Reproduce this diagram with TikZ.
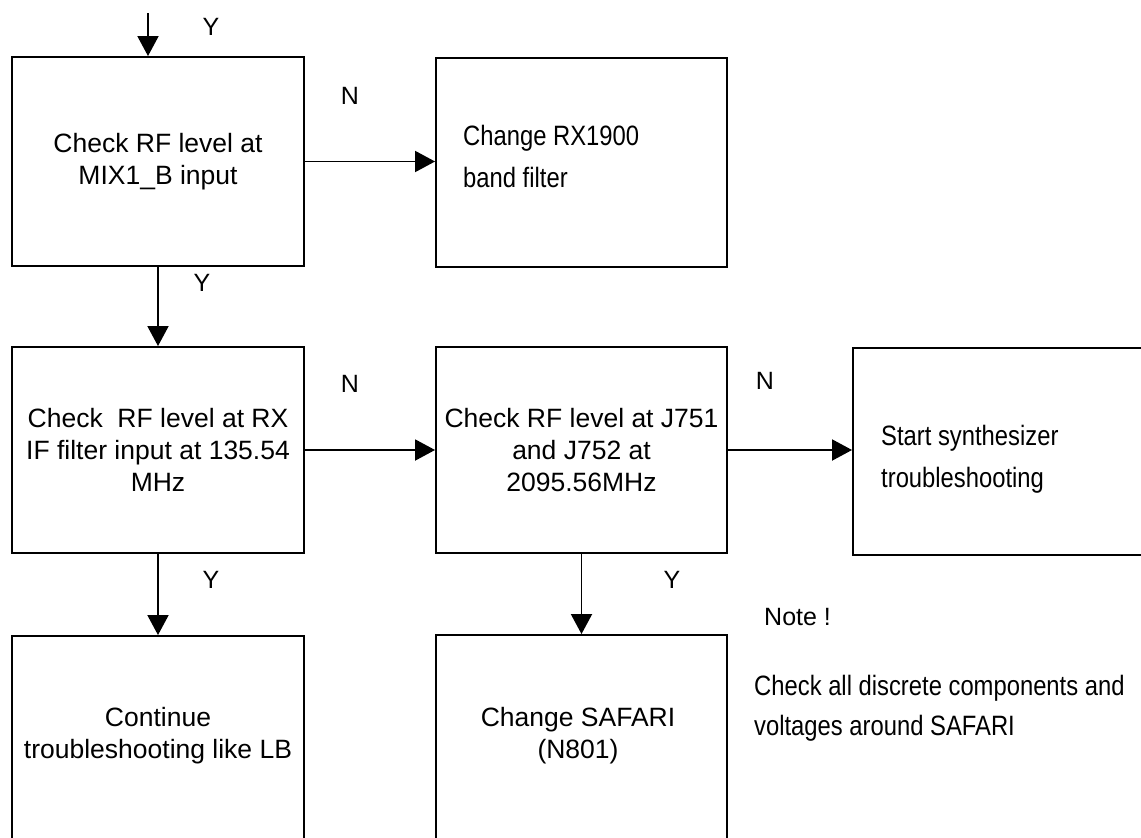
\documentclass[tikz,border=0pt]{standalone}
\usepackage{fontspec}
\setmainfont{Liberation Sans}
\newfontfamily\narrowfont[FakeStretch=0.85]{Liberation Sans}
\usetikzlibrary{arrows.meta}
\begin{document}
\begin{tikzpicture}[x=1pt,y=-1pt,
  box/.style={draw, line width=1.9pt, inner sep=0pt, rectangle},
  boxtext/.style={font=\fontsize{26.5}{32}\selectfont, align=center, inner sep=0pt},
  narrowtext/.style={font=\narrowfont\fontsize{28}{42}\selectfont, align=left, inner sep=0pt, anchor=west},
  lab/.style={font=\fontsize{25}{30}\selectfont, inner sep=0pt},
  flow/.style={line width=1.9pt, -{Triangle[length=20pt,width=21pt]}}]
\clip (0,0) rectangle (1141,838);
\fill[white] (0,0) rectangle (1141,838);

% boxes
\node[box, boxtext, minimum width=292pt, minimum height=209pt] (A) at (158,161.5)
  {Check RF level at\\MIX1\_B input};
\node[box, minimum width=291pt, minimum height=209pt] (B) at (581.5,162.5) {};
\node[box, boxtext, minimum width=292pt, minimum height=206pt] (C) at (158,450)
  {Check\ \ RF level at RX\\IF filter input at 135.54\\MHz};
\node[box, boxtext, minimum width=291pt, minimum height=206pt] (D) at (581.5,450)
  {Check RF level at J751\\and J752 at\\2095.56MHz};
\node[box, minimum width=307pt, minimum height=207pt] (E) at (1006.5,451.5) {};
\node[box, minimum width=292pt, minimum height=224pt] (F) at (158,748) {};
\node[box, minimum width=291pt, minimum height=225pt] (G) at (581.5,747.5) {};

% texts not centred in their boxes
\node[narrowtext] (Btext) at (463,156) {Change RX1900\\band filter};
\node[narrowtext] (Etext) at (881,459) {Start synthesizer\\troubleshooting};
\node[boxtext] (Ftext) at (158,736) {Continue\\troubleshooting like LB};
\node[boxtext] (Gtext) at (578,736) {Change SAFARI\\(N801)};

% note
\node[lab, anchor=west] (note) at (764,617) {Note !};
\node[narrowtext, font=\narrowfont\fontsize{28}{40}\selectfont] (notetext) at (754,708)
  {Check all discrete components and\\voltages around SAFARI};

% connectors
\coordinate (top) at (148,13);
\draw[flow] (top) -- (top |- A.north);
\draw[flow] (A.east) -- (A.east -| B.west);
\draw[flow] (A.south) -- (C.north);
\draw[flow] (C.east) -- (D.west);
\draw[flow] (D.east) -- (D.east -| E.west);
\draw[flow] (C.south) -- (F.north);
\draw[flow] (D.south) -- (G.north);

% labels
\node[lab] (y1) at (211,27) {Y};
\node[lab] (n1) at (350,96) {N};
\node[lab] (y2) at (202,283) {Y};
\node[lab] (n2) at (350,384) {N};
\node[lab] (n3) at (765,381) {N};
\node[lab] (y3) at (211,580) {Y};
\node[lab] (y4) at (672,580) {Y};
\end{tikzpicture}
\end{document}
